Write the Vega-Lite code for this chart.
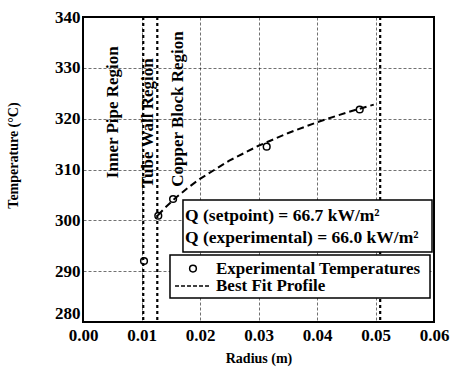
{
  "$schema": "https://vega.github.io/schema/vega-lite/v6.json",
  "autosize": {"type": "none"},
  "padding": {"left": 83, "top": 17, "right": 16, "bottom": 48},
  "width": 351,
  "height": 305,
  "background": "white",
  "config": {
    "font": "Liberation Serif",
    "view": {"stroke": "black", "strokeWidth": 2},
    "axis": {
      "grid": true, "gridColor": "black", "gridWidth": 0.7, "gridDash": [3, 2], "gridOpacity": 0.8,
      "ticks": false, "domain": false,
      "labelFont": "Liberation Serif", "labelFontSize": 17, "labelFontWeight": "bold", "labelColor": "black",
      "titleFont": "Liberation Serif", "titleFontSize": 14, "titleFontWeight": "bold", "titleColor": "black"
    }
  },
  "datasets": {
    "measured": [
      {"radius": 0.01043, "temp": 292.0},
      {"radius": 0.01287, "temp": 300.9},
      {"radius": 0.0154, "temp": 304.2},
      {"radius": 0.0314, "temp": 314.5},
      {"radius": 0.0473, "temp": 321.8}
    ],
    "fit": [
      {"radius": 0.0128, "temp": 301.0},
      {"radius": 0.014, "temp": 302.44},
      {"radius": 0.016, "temp": 304.58},
      {"radius": 0.018, "temp": 306.47},
      {"radius": 0.02, "temp": 308.16},
      {"radius": 0.025, "temp": 311.74},
      {"radius": 0.03, "temp": 314.67},
      {"radius": 0.035, "temp": 317.14},
      {"radius": 0.04, "temp": 319.29},
      {"radius": 0.045, "temp": 321.18},
      {"radius": 0.0497, "temp": 322.77}
    ],
    "boundaries": [
      {"radius": 0.0103},
      {"radius": 0.0127},
      {"radius": 0.0508}
    ],
    "regions": [
      {"label": "Inner Pipe Region", "radius": 0.00513, "temp": 308.3},
      {"label": "Tube Wall Region", "radius": 0.0111, "temp": 306.4},
      {"label": "Copper Block Region", "radius": 0.01624, "temp": 306.6}
    ]
  },
  "layer": [
    {
      "data": {"name": "fit"},
      "mark": {"type": "line", "color": "black", "strokeWidth": 2, "strokeDash": [7, 4]},
      "encoding": {
        "x": {"field": "radius", "type": "quantitative", "scale": {"domain": [0, 0.06], "nice": false, "zero": false},
          "axis": {"values": [0, 0.01, 0.02, 0.03, 0.04, 0.05, 0.06], "format": ".2f", "title": "Radius (m)", "labelPadding": 5, "titlePadding": 8, "labelFlush": false}},
        "y": {"field": "temp", "type": "quantitative", "scale": {"domain": [280, 340], "nice": false, "zero": false},
          "axis": {"values": [280, 290, 300, 310, 320, 330, 340], "title": "Temperature (°C)", "labelPadding": 3, "titlePadding": 34, "titleY": 138, "labelFlush": false,
            "labelBaseline": {"condition": {"test": "datum.value === 280", "value": "bottom"}, "value": "middle"}}}
      }
    },
    {
      "data": {"name": "boundaries"},
      "mark": {"type": "rule", "color": "black", "strokeWidth": 2.2, "strokeDash": [3, 3]},
      "encoding": {"x": {"field": "radius", "type": "quantitative"}, "y": {"value": 0}, "y2": {"value": 305}}
    },
    {
      "data": {"name": "measured"},
      "mark": {"type": "point", "shape": "circle", "filled": false, "color": "black", "strokeWidth": 1.5, "size": 45, "opacity": 1},
      "encoding": {"x": {"field": "radius", "type": "quantitative"}, "y": {"field": "temp", "type": "quantitative"}}
    },
    {
      "data": {"name": "regions"},
      "mark": {"type": "text", "angle": 270, "align": "left", "baseline": "middle", "fontSize": 17, "fontWeight": "bold", "color": "black"},
      "encoding": {"x": {"field": "radius", "type": "quantitative"}, "y": {"field": "temp", "type": "quantitative"}, "text": {"field": "label"}}
    },
    {
      "data": {"values": [{"box": "flux"}]},
      "mark": {"type": "rect", "fill": "white", "stroke": "black", "strokeWidth": 1.5},
      "encoding": {"x": {"datum": 0.01709}, "x2": {"datum": 0.05966}, "y": {"datum": 304.0}, "y2": {"datum": 293.77}}
    },
    {
      "data": {"values": [{"line": "Q (setpoint) = 66.7 kW/m²"}]},
      "mark": {"type": "text", "align": "left", "baseline": "middle", "fontSize": 17.5, "fontWeight": "bold", "color": "black"},
      "encoding": {"x": {"datum": 0.01744}, "y": {"datum": 300.76}, "text": {"field": "line"}}
    },
    {
      "data": {"values": [{"line": "Q (experimental) = 66.0 kW/m²"}]},
      "mark": {"type": "text", "align": "left", "baseline": "middle", "fontSize": 17.5, "fontWeight": "bold", "color": "black"},
      "encoding": {"x": {"datum": 0.01744}, "y": {"datum": 296.43}, "text": {"field": "line"}}
    },
    {
      "data": {"values": [{"box": "legend"}]},
      "mark": {"type": "rect", "fill": "white", "stroke": "black", "strokeWidth": 1.5},
      "encoding": {"x": {"datum": 0.01487}, "x2": {"datum": 0.05932}, "y": {"datum": 293.18}, "y2": {"datum": 284.72}}
    },
    {
      "data": {"values": [{"symbol": "circle"}]},
      "mark": {"type": "point", "shape": "circle", "filled": false, "color": "black", "strokeWidth": 1.5, "size": 45, "opacity": 1},
      "encoding": {"x": {"datum": 0.0188}, "y": {"datum": 290.52}}
    },
    {
      "data": {"values": [{"symbol": "dash"}]},
      "mark": {"type": "rule", "color": "black", "strokeWidth": 1.5, "strokeDash": [4, 2]},
      "encoding": {"x": {"datum": 0.01573}, "x2": {"datum": 0.02171}, "y": {"datum": 287.08}}
    },
    {
      "data": {"values": [{"line": "Experimental Temperatures"}]},
      "mark": {"type": "text", "align": "left", "baseline": "middle", "fontSize": 17, "fontWeight": "bold", "color": "black"},
      "encoding": {"x": {"datum": 0.02274}, "y": {"datum": 290.52}, "text": {"field": "line"}}
    },
    {
      "data": {"values": [{"line": "Best Fit Profile"}]},
      "mark": {"type": "text", "align": "left", "baseline": "middle", "fontSize": 17, "fontWeight": "bold", "color": "black"},
      "encoding": {"x": {"datum": 0.02274}, "y": {"datum": 287.08}, "text": {"field": "line"}}
    }
  ]
}
